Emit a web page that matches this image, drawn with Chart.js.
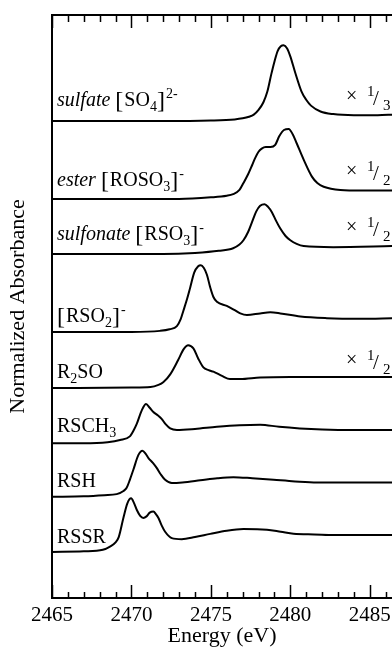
<!DOCTYPE html>
<html><head><meta charset="utf-8">
<script src="https://cdn.jsdelivr.net/npm/chart.js@4.4.1/dist/chart.umd.min.js"></script>
<style>html,body{margin:0;padding:0;background:#fff;}#wrap{width:392px;height:650px;}</style>
</head><body><div id="wrap"><canvas id="c" width="392" height="650"></canvas></div>
<script>
// ---- data (energy in eV, normalized absorbance; display already scaled as in figure) ----
const energyTicks = [2465, 2470, 2475, 2480, 2485];
const compounds = ['sulfate', 'ester', 'sulfonate', 'RSO2', 'R2SO', 'RSCH3', 'RSH', 'RSSR'];
const offsets = [9.0, 7.53, 6.49, 5.02, 3.96, 2.92, 1.91, 0.87];
const scaleFactors = ['3', '2', '2', null, '2', null, null, null];

const sulfate = [[2465,0],[2472,0.0],[2475,0.01],[2476.5,0.03],[2477.0,0.05],[2477.4,0.08],[2477.7,0.12],[2478.0,0.21],[2478.3,0.35],[2478.55,0.55],[2478.8,0.88],[2479.0,1.12],[2479.2,1.32],[2479.4,1.41],[2479.58,1.43],[2479.8,1.37],[2480.0,1.22],[2480.3,0.92],[2480.7,0.56],[2481.0,0.40],[2481.3,0.29],[2481.9,0.18],[2482.7,0.13],[2484.0,0.11],[2485.5,0.11],[2486.5,0.12]];
const ester = [[2465,0],[2473,0.0],[2475,0.03],[2476.0,0.06],[2476.4,0.09],[2476.8,0.17],[2477.05,0.30],[2477.35,0.47],[2477.6,0.64],[2477.8,0.78],[2478.0,0.89],[2478.2,0.95],[2478.45,0.98],[2478.75,0.98],[2479.05,1.02],[2479.3,1.18],[2479.6,1.30],[2479.9,1.32],[2480.15,1.22],[2480.4,1.05],[2480.84,0.74],[2481.36,0.42],[2481.7,0.30],[2482.1,0.23],[2483.15,0.17],[2484.5,0.16],[2486.5,0.16]];
const sulfonate = [[2465,0],[2472,0.0],[2474,0.02],[2475.5,0.06],[2476.4,0.11],[2476.8,0.18],[2477.05,0.26],[2477.35,0.42],[2477.6,0.61],[2477.85,0.80],[2478.1,0.91],[2478.38,0.94],[2478.6,0.89],[2478.84,0.79],[2479.1,0.63],[2479.37,0.48],[2479.7,0.34],[2480.0,0.26],[2480.4,0.19],[2480.84,0.15],[2482.7,0.13],[2486.5,0.15]];
const rso2 = [[2465,0],[2470,0.0],[2471.8,0.02],[2472.4,0.05],[2472.86,0.11],[2473.1,0.24],[2473.27,0.40],[2473.5,0.62],[2473.7,0.84],[2473.95,1.12],[2474.2,1.24],[2474.37,1.26],[2474.55,1.21],[2474.75,1.08],[2474.95,0.85],[2475.16,0.66],[2475.38,0.57],[2476.0,0.49],[2476.5,0.41],[2476.85,0.35],[2477.27,0.32],[2478.1,0.35],[2478.74,0.37],[2479.37,0.35],[2480.63,0.29],[2482.3,0.26],[2484.4,0.25],[2486.5,0.26]];
const r2so = [[2465,0],[2470,0.01],[2471.2,0.02],[2471.7,0.06],[2472.0,0.11],[2472.44,0.26],[2472.94,0.53],[2473.3,0.74],[2473.57,0.81],[2473.9,0.75],[2474.2,0.56],[2474.53,0.39],[2474.85,0.34],[2475.16,0.31],[2475.7,0.23],[2476.2,0.17],[2476.85,0.17],[2478.1,0.20],[2480,0.21],[2486.5,0.21]];
const rsch3 = [[2465,0],[2467,0.0],[2468.5,0.02],[2469.28,0.06],[2469.9,0.13],[2470.15,0.25],[2470.34,0.37],[2470.65,0.62],[2470.92,0.74],[2471.15,0.67],[2471.38,0.59],[2471.65,0.53],[2471.9,0.46],[2472.15,0.36],[2472.44,0.28],[2472.86,0.25],[2474,0.27],[2475.38,0.31],[2476.8,0.34],[2478.1,0.35],[2479.3,0.31],[2480.6,0.28],[2482,0.26],[2484,0.25],[2486.5,0.25]];
const rsh = [[2465,0],[2467,0.01],[2468.3,0.03],[2469.07,0.05],[2469.5,0.11],[2469.7,0.17],[2469.9,0.32],[2470.12,0.51],[2470.44,0.79],[2470.69,0.87],[2470.9,0.81],[2471.07,0.73],[2471.35,0.64],[2471.6,0.54],[2471.85,0.42],[2472.12,0.32],[2472.54,0.26],[2473.2,0.27],[2474.33,0.31],[2475.4,0.35],[2476.42,0.37],[2477.6,0.35],[2478.95,0.32],[2480.3,0.29],[2481.68,0.27],[2486.5,0.27]];
const rssr = [[2465,0],[2467,0.01],[2468.2,0.04],[2468.65,0.10],[2469.0,0.18],[2469.2,0.28],[2469.5,0.65],[2469.75,0.92],[2469.98,1.01],[2470.15,0.93],[2470.34,0.79],[2470.55,0.68],[2470.75,0.64],[2470.95,0.67],[2471.15,0.74],[2471.38,0.76],[2471.55,0.71],[2471.7,0.64],[2471.9,0.50],[2472.12,0.38],[2472.54,0.26],[2473.17,0.24],[2474.0,0.28],[2474.96,0.34],[2476.0,0.40],[2477.05,0.43],[2478.53,0.42],[2479.4,0.38],[2480.2,0.34],[2481.5,0.33],[2482.72,0.32],[2486.5,0.32]];
const spectra = [sulfate, ester, sulfonate, rso2, r2so, rsch3, rsh, rssr];

// label texts as rich segments: i = italic, r = roman, b = bracket, sub, sup
const labelParts = [
  [['sulfate ','i'],['[','b'],['SO','r'],['4','sub'],[']','b'],['2-','sup']],
  [['ester ','i'],['[','b'],['ROSO','r'],['3','sub'],[']','b'],['-','sup']],
  [['sulfonate ','i'],['[','b'],['RSO','r'],['3','sub'],[']','b'],['-','sup']],
  [['[','b'],['RSO','r'],['2','sub'],[']','b'],['-','sup']],
  [['R','r'],['2','sub'],['SO','r']],
  [['RSCH','r'],['3','sub']],
  [['RSH','r']],
  [['RSSR','r']]
];
// ---- styling / layout ----
const FONT = "'Liberation Serif', 'Times New Roman', serif";
const labelLift = [15, 13, 14, 10, 10, 11, 10, 9];
const factorLift = [19, 22, 21.5, 0, 22, 0, 0, 0];

function fontFor(kind){
  if (kind === 'i') return 'italic 20px ' + FONT;
  if (kind === 'b') return '24px ' + FONT;
  if (kind === 'sub' || kind === 'sup') return '14px ' + FONT;
  return '20px ' + FONT;
}

const innerTicks = {
  id: 'innerTicks',
  afterDraw(chart){
    const {ctx, chartArea:a, scales:{x}} = chart;
    ctx.save();
    ctx.strokeStyle = '#000';
    ctx.lineWidth = 1.5;
    for (let e = 2465; e <= 2486; e++){
      const px = Math.round(x.getPixelForValue(e)) + 0.5;
      const major = e % 5 === 0;
      ctx.beginPath();
      ctx.moveTo(px, a.bottom); ctx.lineTo(px, a.bottom - (major ? 13 : 6));
      ctx.moveTo(px, a.top); ctx.lineTo(px, a.top + (major ? 13 : 7));
      ctx.stroke();
    }
    ctx.restore();
  }
};

const textLabels = {
  id: 'textLabels',
  afterDatasetsDraw(chart){
    const {ctx, scales:{y}} = chart;
    ctx.save();
    ctx.fillStyle = '#000';
    ctx.textBaseline = 'alphabetic';
    labelParts.forEach((parts, i) => {
      const base = y.getPixelForValue(offsets[i]) - labelLift[i];
      let cx = 57;
      parts.forEach(([t, k]) => {
        ctx.font = fontFor(k);
        let dy = 0;
        if (k === 'sub') dy = 5;
        if (k === 'sup') dy = -8;
        if (k === 'b') dy = 2;
        ctx.fillText(t, cx, base + dy);
        cx += ctx.measureText(t).width + (k === 'b' ? 1 : 0);
      });
      if (scaleFactors[i]){
        const fb = y.getPixelForValue(offsets[i]) - factorLift[i];
        ctx.font = '20px ' + FONT;
        ctx.fillText('\u00d7', 346, fb);
        ctx.font = '15px ' + FONT;
        ctx.fillText('1', 367, fb - 6);
        ctx.font = '21px ' + FONT;
        ctx.fillText('/', 373, fb + 3);
        ctx.font = '15px ' + FONT;
        ctx.fillText(scaleFactors[i], 383, fb + 8);
      }
    });
    ctx.restore();
  }
};

const axisFont = {family: FONT, size: 22};
new Chart(document.getElementById('c'), {
  type: 'line',
  data: {
    datasets: compounds.map((name, i) => ({
      label: name,
      data: spectra[i].map(p => ({x: p[0], y: p[1] + offsets[i]})),
      borderColor: '#000', borderWidth: 2, pointRadius: 0, fill: false,
      cubicInterpolationMode: 'monotone'
    }))
  },
  options: {
    responsive: false, animation: false,
    layout: {padding: 0},
    plugins: {legend: {display: false}, tooltip: {enabled: false}},
    scales: {
      x: {
        type: 'linear', position: 'bottom', min: 2465, max: 2486.4,
        afterBuildTicks: s => { s.ticks = energyTicks.map(v => ({value: v})); },
        ticks: {autoSkip: false, maxRotation: 0, padding: 5, color: '#000', font: {family: FONT, size: 21}, callback: v => String(v)},
        grid: {display: false, drawTicks: false},
        border: {display: true, color: '#000', width: 2},
        title: {display: true, text: 'Energy (eV)', color: '#000', font: axisFont, padding: {top: 0, bottom: 1}},
        afterFit: s => { s.height = 52; s.paddingLeft = 0; s.paddingRight = 0; }
      },
      x2: {
        type: 'linear', position: 'top', min: 2465, max: 2486.4,
        ticks: {display: false},
        grid: {display: false, drawTicks: false},
        border: {display: true, color: '#000', width: 2},
        afterFit: s => { s.height = 15; s.paddingLeft = 0; s.paddingRight = 0; }
      },
      y: {
        type: 'linear', min: 0, max: 11,
        ticks: {display: false},
        grid: {display: false, drawTicks: false},
        border: {display: true, color: '#000', width: 2},
        title: {display: true, text: 'Normalized Absorbance', color: '#000', font: axisFont, padding: {top: 5, bottom: 0}},
        afterFit: s => { s.width = 52; }
      }
    }
  },
  plugins: [innerTicks, textLabels]
});
</script>
</body></html>
